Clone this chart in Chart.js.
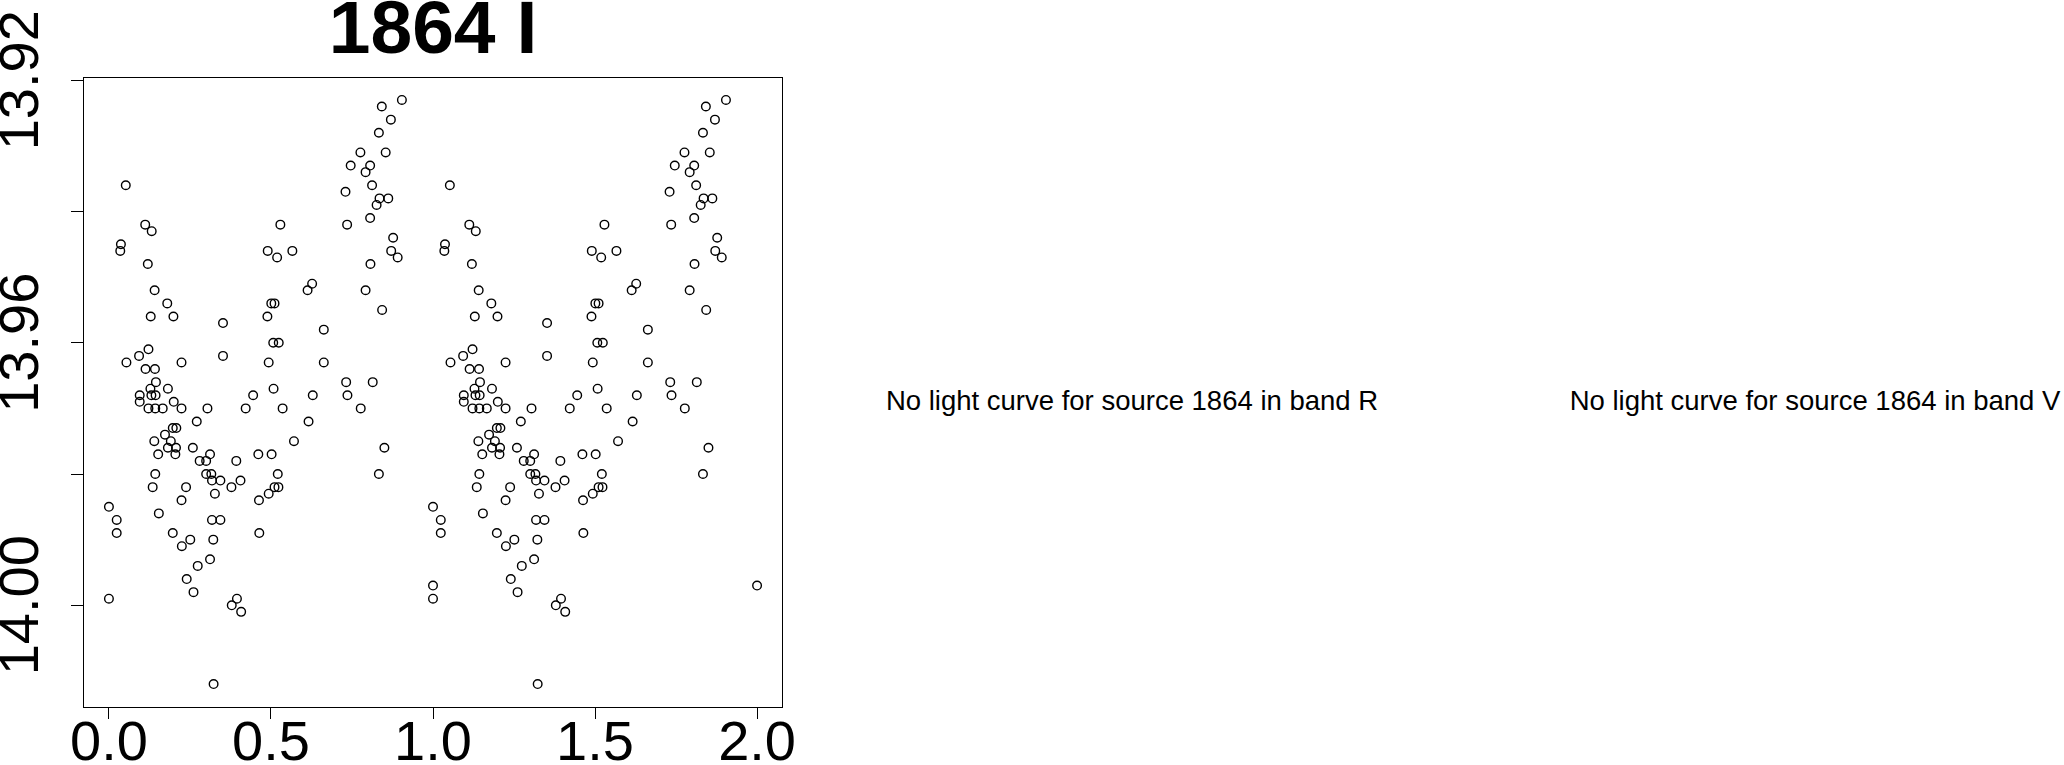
<!DOCTYPE html>
<html>
<head>
<meta charset="utf-8">
<script src="https://cdn.jsdelivr.net/npm/chart.js@4.4.1/dist/chart.umd.min.js"></script>
<style>
  html, body { margin: 0; padding: 0; background: #ffffff; }
  body { width: 2064px; height: 765px; position: relative; overflow: hidden; font-family: 'Liberation Sans', Arial, sans-serif; }
  #wrap { position: absolute; left: 0; top: 0; width: 866px; height: 765px; }
  .msg { position: absolute; font-size: 27.5px; line-height: 27px; color: #000; white-space: nowrap; transform: translateX(-50%); }
</style>
</head>
<body>
<div id="wrap"><canvas id="c" width="866" height="765"></canvas></div>
<div class="msg" id="msgR" style="left:1132px; top:387px;"></div>
<div class="msg" id="msgV" style="left:1815px; top:387px;"></div>
<script>
// ---- data (phase, magnitude in band I) ----
const title = '1864 I';
const phase = [
  0.904,0.842,0.870,0.833,0.776,0.854,0.746,0.806,0.792,0.052,
  0.812,0.730,0.835,0.862,0.826,0.806,0.112,0.132,0.529,0.735,
  0.877,0.037,0.035,0.490,0.519,0.566,0.871,0.891,0.120,0.807,
  0.627,0.613,0.141,0.792,0.180,0.501,0.511,0.129,0.199,0.489,
  0.843,0.352,0.663,0.507,0.524,0.122,0.093,0.352,0.054,0.224,
  0.493,0.663,0.113,0.142,0.145,0.732,0.814,0.128,0.182,0.508,
  0.095,0.131,0.144,0.445,0.629,0.736,0.095,0.200,0.122,0.143,
  0.166,0.224,0.304,0.422,0.536,0.777,0.271,0.616,0.197,0.208,
  0.173,0.140,0.191,0.571,0.182,0.207,0.259,0.850,0.152,0.205,
  0.312,0.461,0.502,0.280,0.300,0.393,0.143,0.300,0.316,0.521,
  0.833,0.318,0.344,0.406,0.135,0.238,0.378,0.511,0.523,0.327,
  0.493,0.224,0.463,0.000,0.154,0.024,0.318,0.344,0.024,0.197,
  0.464,0.251,0.322,0.225,0.312,0.274,0.240,0.261,0.000,0.395,
  0.379,0.408,0.323,1.000
];
const mag = [
  13.923,13.924,13.926,13.928,13.931,13.931,13.933,13.933,13.934,13.936,
  13.936,13.937,13.938,13.938,13.939,13.941,13.942,13.943,13.942,13.942,
  13.944,13.945,13.946,13.946,13.947,13.946,13.946,13.947,13.948,13.948,
  13.951,13.952,13.952,13.952,13.954,13.954,13.954,13.956,13.956,13.956,
  13.955,13.957,13.958,13.960,13.960,13.961,13.962,13.962,13.963,13.963,
  13.963,13.963,13.964,13.964,13.966,13.966,13.966,13.967,13.967,13.967,
  13.968,13.968,13.968,13.968,13.968,13.968,13.969,13.969,13.970,13.970,
  13.970,13.970,13.970,13.970,13.970,13.970,13.972,13.972,13.973,13.973,
  13.974,13.975,13.975,13.975,13.976,13.976,13.976,13.976,13.977,13.977,
  13.977,13.977,13.977,13.978,13.978,13.978,13.980,13.980,13.980,13.980,
  13.980,13.981,13.981,13.981,13.982,13.982,13.982,13.982,13.982,13.983,
  13.983,13.984,13.984,13.985,13.986,13.987,13.987,13.987,13.989,13.989,
  13.989,13.990,13.990,13.991,13.993,13.994,13.996,13.998,13.999,13.999,
  14.000,14.001,14.012,13.997
];
const xTickValues = [0, 0.5, 1, 1.5, 2];
const xTickLabels = ['0.0', '0.5', '1.0', '1.5', '2.0'];
const yTickValues = [13.92, 13.94, 13.96, 13.98, 14.00];
const yTickLabels = ['13.92', '', '13.96', '', '14.00'];
const messages = [
  'No light curve for source 1864 in band R',
  'No light curve for source 1864 in band V'
];

document.getElementById('msgR').textContent = messages[0];
document.getElementById('msgV').textContent = messages[1];

// phase-folded curve is shown over two cycles (phase and phase + 1)
const points = phase.map((p, i) => ({ x: p, y: mag[i] }))
  .concat(phase.map((p, i) => ({ x: p + 1, y: mag[i] })));

const FONT = "'Liberation Sans', Arial, sans-serif";

const boxPlugin = {
  id: 'box',
  afterDatasetsDraw(chart) {
    const a = chart.chartArea, ctx = chart.ctx;
    ctx.save();
    ctx.strokeStyle = '#000';
    ctx.lineWidth = 1;
    ctx.strokeRect(Math.round(a.left) + 0.5, Math.round(a.top) + 0.5,
                   Math.round(a.right - a.left) - 1, Math.round(a.bottom - a.top));
    ctx.restore();
  }
};

new Chart(document.getElementById('c'), {
  type: 'scatter',
  data: {
    datasets: [{
      data: points,
      pointStyle: 'circle',
      pointRadius: 4.3,
      pointHoverRadius: 4.3,
      pointBorderWidth: 1.4,
      pointBorderColor: '#000',
      pointBackgroundColor: 'rgba(0,0,0,0)',
      borderColor: '#000',
      backgroundColor: 'rgba(0,0,0,0)'
    }]
  },
  options: {
    responsive: false,
    animation: false,
    events: [],
    elements: {
      point: { radius: 4.3, hoverRadius: 4.3, borderWidth: 1.4, pointStyle: 'circle',
               borderColor: '#000', backgroundColor: 'rgba(0,0,0,0)' }
    },
    layout: { padding: { left: 0, right: 83, top: 0, bottom: 0 } },
    plugins: {
      legend: { display: false },
      tooltip: { enabled: false },
      title: {
        display: true,
        fullSize: false,
        text: title,
        color: '#000',
        font: { family: FONT, size: 75, weight: 'bold', lineHeight: 0.853 },
        padding: { top: 0, bottom: 13 }
      }
    },
    scales: {
      x: {
        type: 'linear',
        min: -0.08,
        max: 2.08,
        afterBuildTicks: (s) => { s.ticks = xTickValues.map(v => ({ value: v })); },
        afterFit: (s) => { s.height = 58; },
        grid: { display: true, drawOnChartArea: false, drawTicks: true, tickLength: 12, tickColor: '#000', tickWidth: 1 },
        border: { display: false },
        ticks: {
          autoSkip: false,
          maxRotation: 0,
          minRotation: 0,
          padding: -2,
          color: '#000',
          font: { family: FONT, size: 56, lineHeight: 1 },
          callback: (v, i) => xTickLabels[i]
        }
      },
      y: {
        type: 'linear',
        reverse: true,
        min: 13.9195,
        max: 14.0155,
        afterBuildTicks: (s) => { s.ticks = yTickValues.map(v => ({ value: v })); },
        afterFit: (s) => { s.width = 83; },
        grid: { display: true, drawOnChartArea: false, drawTicks: true, tickLength: 12, tickColor: '#000', tickWidth: 1 },
        border: { display: false },
        ticks: {
          autoSkip: false,
          minRotation: 90,
          maxRotation: 90,
          crossAlign: 'center',
          padding: -22,
          color: '#000',
          font: { family: FONT, size: 56, lineHeight: 1 },
          callback: (v, i) => yTickLabels[i]
        }
      }
    }
  },
  plugins: [boxPlugin]
});
</script>
</body>
</html>
